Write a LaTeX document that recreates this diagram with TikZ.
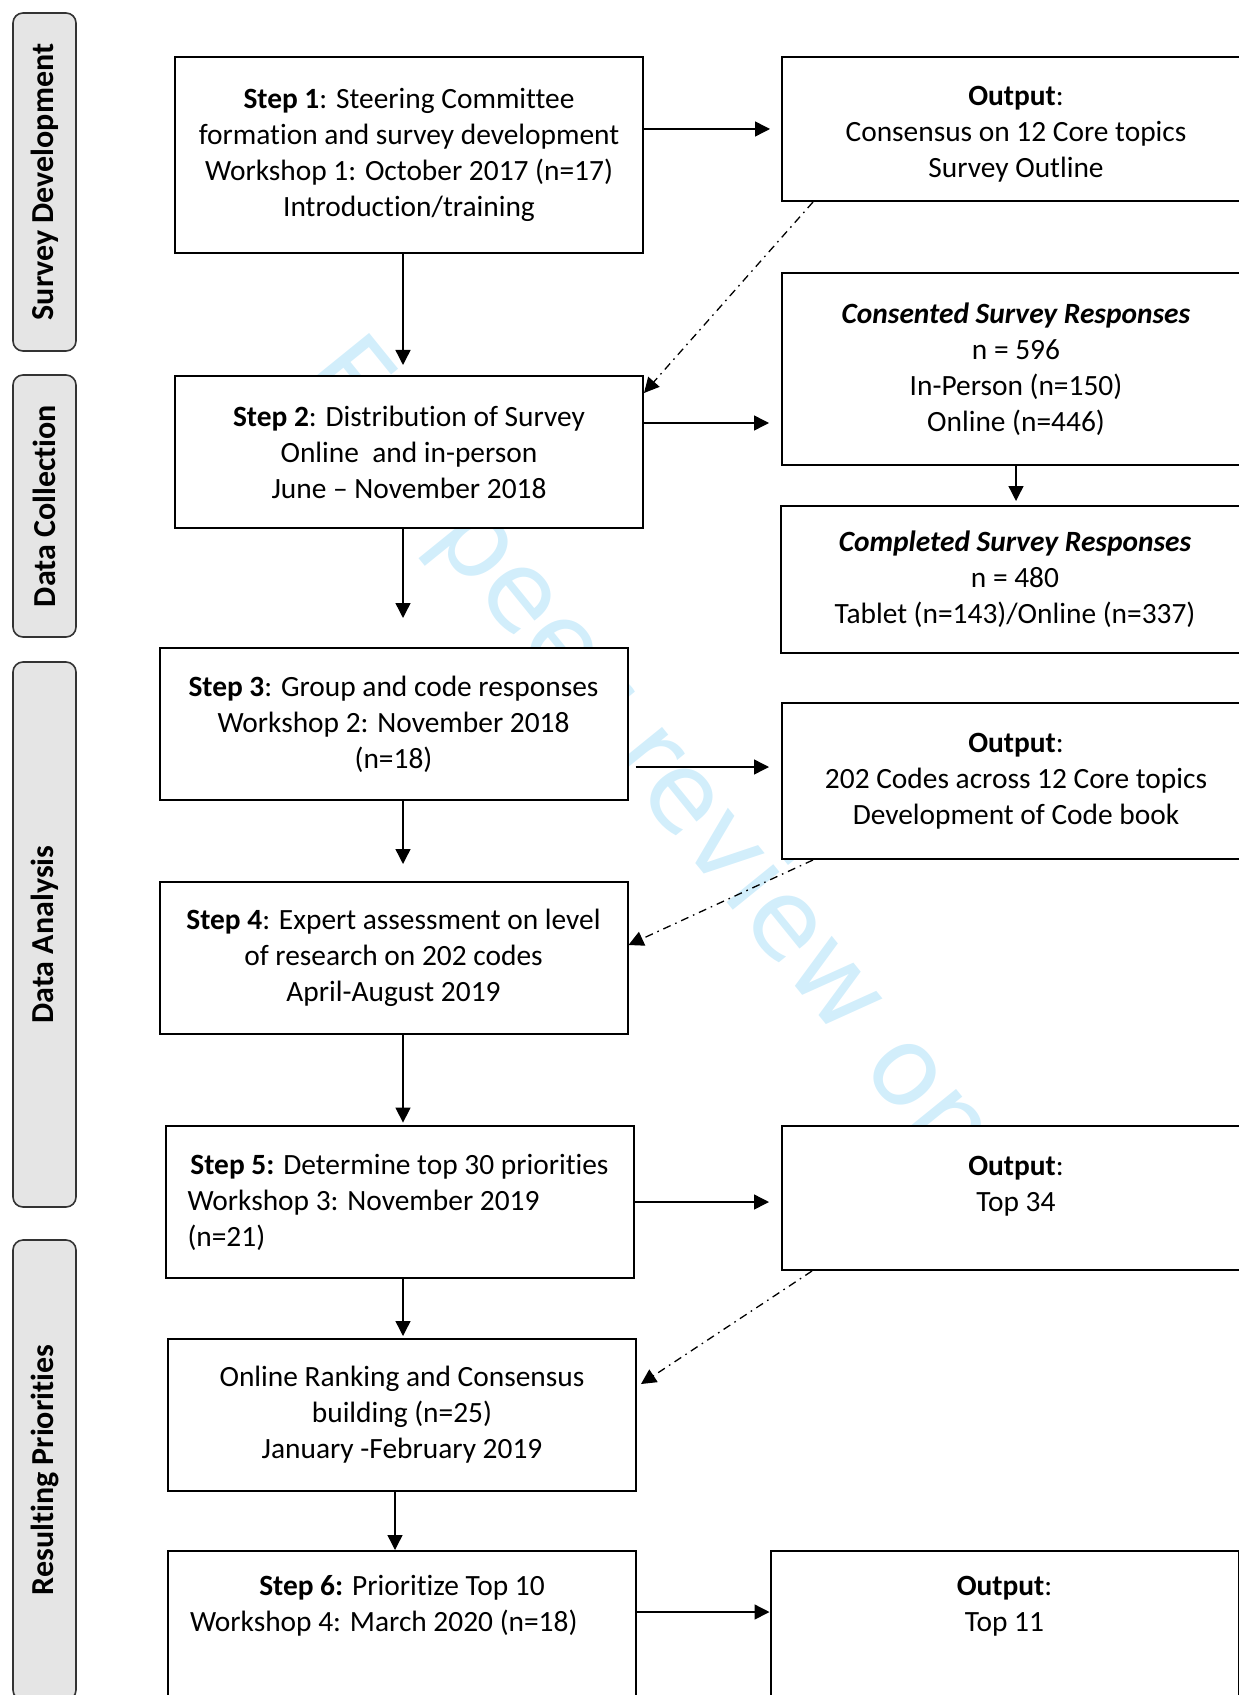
\documentclass[tikz,border=0pt]{standalone}
\usepackage{fontspec}
\setmainfont{Carlito}[Ligatures=NoCommon]
\newfontfamily\wmfont{DejaVu Sans}
\usepackage{xcolor}
\usetikzlibrary{arrows.meta}
\definecolor{wmblue}{RGB}{210,238,251}

\begin{document}
\begin{tikzpicture}[
	x=0.5pt, y=-0.5pt,
	font=\fontsize{14.7}{18}\selectfont,
	b/.style = {rectangle, draw, line width=1pt, fill=white, minimum width=234pt, minimum height=76pt, align=center, inner sep=2pt},
	bl/.style = {b, align=flush left, text width=212pt, inner xsep=11pt},
	lbl/.style = {rectangle, rounded corners=5pt, draw=black!80, line width=0.8pt, fill=black!10, minimum height=31.5pt, rotate=90, font=\fontsize{16}{19}\selectfont\bfseries},
	r/.style = {-{Triangle[length=7.5pt, width=7.5pt]}, line width=0.7pt},
	dd/.style = {r, line width=0.65pt, dash pattern=on 4pt off 2.5pt on 0.8pt off 2.5pt},
	wm/.style = {text=wmblue, font=\wmfont\fontsize{55}{60}\selectfont, inner sep=0pt}
	]
	\useasboundingbox (0, 0) rectangle (1238, 1695);
	
	% === === Watermark === ===
	\node[wm, rotate=-51, anchor=base west]	(wmark)	at	(300, 375)	{For peer review only};
	
	% === === Phases === ===
	\node[lbl, minimum width=169pt]		(lbl1)	at	(44.5, 182)		{Survey Development};
	\node[lbl, minimum width=131pt]		(lbl2)	at	(44.5, 506)		{Data Collection};
	\node[lbl, minimum width=272.5pt]	(lbl3)	at	(44.5, 934.5)	{Data Analysis};
	\node[lbl, minimum width=230pt]		(lbl4)	at	(44.5, 1470)	{Resulting Priorities};
	
	% === === Steps === ===
	\node[b, minimum height=98pt]	(s1)	at	(409, 155)		{\textbf{Step 1}: Steering Committee\\formation and survey development\\Workshop 1: October 2017 (n=17)\\Introduction/training};
	\node[b]	(s2)	at	(409, 452)		{\textbf{Step 2}: Distribution of Survey\\Online\ \ and in-person\\June – November 2018};
	\node[b]	(s3)	at	(393.5, 724)	{\textbf{Step 3}: Group and code responses\\Workshop 2: November 2018\\(n=18)};
	\node[b]	(s4)	at	(393.5, 958)	{\textbf{Step 4}: Expert assessment on level\\of research on 202 codes\\April-August 2019};
	\node[bl]	(s5)	at	(399.5, 1202)	{\makebox[212pt]{\textbf{Step 5:} Determine top 30 priorities}\\Workshop 3: November 2019\\(n=21)};
	\node[b]	(rank)	at	(402, 1415)		{Online Ranking and Consensus\\building (n=25)\\January -February 2019};
	\node[bl]	(s6)	at	(402, 1627)		{\makebox[212pt]{\textbf{Step 6:} Prioritize Top 10}\\Workshop 4: March 2020 (n=18)\\\strut};
	
	% === === Outputs === ===
	\node[b, minimum height=72pt]	(out1)	at	(1016, 129)		{\rule{0pt}{15pt}\textbf{Output}:\\Consensus on 12 Core topics\\Survey Outline};
	\node[b, minimum height=96pt]	(cons)	at	(1016, 369)		{\textbf{\textit{Consented Survey Responses}}\\n = 596\\In-Person (n=150)\\Online (n=446)};
	\node[b, minimum height=73.5pt]	(comp)	at	(1015, 579.5)	{\textbf{\textit{Completed Survey Responses}}\\n = 480\\Tablet (n=143)/Online (n=337)};
	\node[b, minimum height=78pt]	(out2)	at	(1016, 781)		{\textbf{Output}:\\202 Codes across 12 Core topics\\Development of Code book};
	\node[b, minimum height=72pt]	(out34)	at	(1016, 1198)	{\textbf{Output}:\\Top 34\\[-9pt]\strut};
	\node[b, minimum height=73pt]	(out11)	at	(1004.5, 1624)	{\textbf{Output}:\\Top 11\\[-3pt]\strut};
	
	\coordinate (spine) at (403, 0);
	
	% === === Lines === ===
	\draw[r, shorten >=5pt]		(spine |- s1.south)	to	(spine |- s2.north);
	\draw[r, shorten >=14.5pt]	(spine |- s2.south)	to	(spine |- s3.north);
	\draw[r, shorten >=8.5pt]	(spine |- s3.south)	to	(spine |- s4.north);
	\draw[r, shorten >=1.2pt]	(spine |- s4.south)	to	(spine |- s5.north);
	\draw[r, shorten >=1pt]		(spine |- s5.south)	to	(spine |- rank.north);
	\draw[r]	([xshift=-4pt]spine |- rank.south)	to	([xshift=-4pt]spine |- s6.north);
	\draw[r, shorten >=2pt]		(cons.south)	to	(cons.south |- comp.north);
	
	\draw[r, shorten >=5.5pt]	(s1.east |- out1.west)	to	(out1.west);
	\draw[r, shorten >=6pt]		([yshift=14.5pt]s2.east)	to	([yshift=14.5pt]s2.east -| cons.west);
	\draw[r, shorten <=3.5pt, shorten >=6pt]	([yshift=-21.5pt]s3.east)	to	([yshift=-21.5pt]s3.east -| out2.west);
	\draw[r, shorten >=6pt]		(s5.east)	to	(s5.east -| out34.west);
	\draw[r]	([yshift=7.5pt]s6.east)	to	([yshift=7.5pt]s6.east -| out11.west);
	
	\draw[dd]	([xshift=16pt]out1.south west)		to	([yshift=-9pt]s2.north east);
	\draw[dd]	([xshift=16pt]out2.south west)		to	([yshift=6.5pt]s4.east);
	\draw[dd]	([xshift=15.5pt]out34.south west)	to	([xshift=2pt, yshift=-23pt]rank.north east);
	
\end{tikzpicture}
\end{document}
